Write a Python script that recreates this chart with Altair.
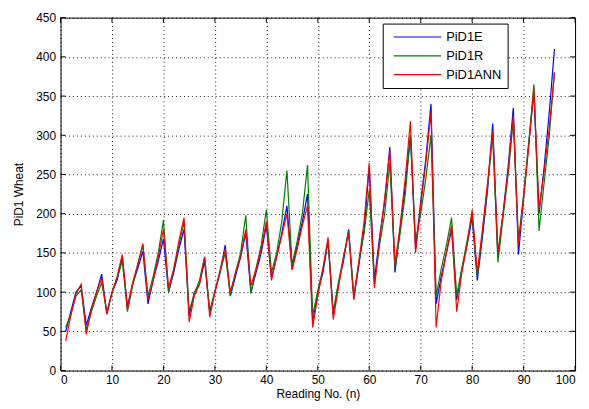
import altair as alt
import pandas as pd

# Reading numbers 1..96
reading = list(range(1, 97))

pid1e = [50, 75, 100, 108,  58, 80, 100, 123,  72, 100, 115, 145,  82, 110, 130, 152,
         85, 115, 140, 168,  100, 125, 155, 180,  70, 100, 110, 140,  75, 100, 125, 160,
         95, 120, 145, 175,  100, 125, 150, 185,  118, 145, 175, 210,  130, 160, 190, 225,
         62, 100, 125, 165,  72, 110, 140, 180,  92, 135, 180, 260,  115, 170, 215, 285,
         125, 180, 235, 300,  155, 215, 270, 340,  85, 120, 150, 180,  90, 130, 160, 195,
         115, 170, 230, 315,  145, 200, 260, 335,  148, 220, 290, 355,  200, 260, 330, 410]

pid1r = [55, 72, 95, 103,  52, 75, 95, 112,  75, 98, 118, 140,  75, 108, 135, 160,
         95, 120, 150, 192,  100, 128, 160, 190,  75, 98, 115, 145,  75, 102, 125, 150,
         95, 125, 150, 198,  98, 130, 160, 205,  125, 150, 190, 255,  135, 165, 200, 262,
         70, 102, 130, 165,  75, 112, 145, 178,  95, 140, 175, 230,  110, 160, 200, 265,
         130, 175, 225, 300,  165, 200, 245, 300,  95, 130, 160, 195,  95, 130, 165, 200,
         120, 175, 235, 300,  138, 195, 250, 320,  165, 225, 290, 365,  178, 240, 300, 380]

pid1ann = [38, 70, 98, 110,  46, 78, 100, 118,  72, 100, 120, 148,  78, 112, 135, 162,
           90, 115, 145, 180,  105, 130, 165, 195,  62, 95, 110, 145,  68, 100, 128, 155,
           100, 125, 145, 180,  108, 130, 155, 190,  115, 145, 172, 200,  128, 155, 185, 210,
           55, 95, 130, 170,  65, 105, 145, 175,  90, 140, 190, 265,  105, 165, 220, 280,
           135, 185, 245, 318,  150, 210, 265, 330,  55, 115, 150, 185,  75, 125, 160, 205,
           125, 180, 240, 305,  150, 200, 255, 325,  160, 220, 285, 360,  205, 255, 310, 380]

series_names = ["PiD1E", "PiD1R", "PiD1ANN"]
series_colors = ["#0000ff", "#008000", "#ff0000"]
x_ticks = [0, 10, 20, 30, 40, 50, 60, 70, 80, 90, 100]
y_ticks = [0, 50, 100, 150, 200, 250, 300, 350, 400, 450]

rows = []
for name, vals in zip(series_names, [pid1e, pid1r, pid1ann]):
    for x, v in zip(reading, vals):
        rows.append({"n": x, "value": v, "series": name})
df = pd.DataFrame(rows)

W, H = 519, 356
FONT = "Liberation Sans"

xscale = alt.Scale(domain=[0, 100], nice=False, zero=False)
yscale = alt.Scale(domain=[0, 450], nice=False, zero=False)

common_axis = dict(grid=True, ticks=False, domain=False, gridColor="#000",
                   gridDash=[1, 3], gridOpacity=0.9, gridWidth=1,
                   labelFont=FONT, titleFont=FONT, labelFontSize=12, titleFontSize=12,
                   labelColor="#000", titleColor="#000", titleFontWeight="normal",
                   labelOverlap=False)
x_axis = alt.Axis(values=x_ticks, labelPadding=4, titlePadding=3, **common_axis)
y_axis = alt.Axis(values=y_ticks, labelPadding=5, titlePadding=10, **common_axis)
X_TITLE = "Reading No. (n)"
Y_TITLE = "PiD1 Wheat"

lines = alt.Chart(df).mark_line(strokeWidth=1.2).encode(
    x=alt.X("n:Q", scale=xscale, title=X_TITLE, axis=x_axis),
    y=alt.Y("value:Q", scale=yscale, title=Y_TITLE, axis=y_axis),
    color=alt.Color("series:N",
                    scale=alt.Scale(domain=series_names, range=series_colors),
                    sort=series_names,
                    legend=alt.Legend(orient="none", legendX=325, legendY=6, title=None,
                                      symbolType="stroke", symbolSize=2300,
                                      symbolStrokeWidth=1.2, labelFontSize=13,
                                      labelFont=FONT, labelColor="#000",
                                      strokeColor="#000", fillColor="#fff",
                                      clipHeight=15, padding=6, rowPadding=4,
                                      labelOffset=4, symbolOffset=4)),
    detail="series:N",
)

xt = pd.DataFrame({"n": x_ticks})
yt = pd.DataFrame({"value": y_ticks})

xb = alt.Chart(xt).mark_rule(color="#000", strokeWidth=1).encode(
    x=alt.X("n:Q", scale=xscale, title=X_TITLE, axis=x_axis),
    y=alt.value(H), y2=alt.value(H - 5))
xtop = alt.Chart(xt).mark_rule(color="#000", strokeWidth=1).encode(
    x=alt.X("n:Q", scale=xscale, title=X_TITLE, axis=x_axis),
    y=alt.value(0), y2=alt.value(5))
yl = alt.Chart(yt).mark_rule(color="#000", strokeWidth=1).encode(
    y=alt.Y("value:Q", scale=yscale, title=Y_TITLE, axis=y_axis),
    x=alt.value(0), x2=alt.value(5))
yr = alt.Chart(yt).mark_rule(color="#000", strokeWidth=1).encode(
    y=alt.Y("value:Q", scale=yscale, title=Y_TITLE, axis=y_axis),
    x=alt.value(W), x2=alt.value(W - 5))

chart = alt.layer(lines, xb, xtop, yl, yr).properties(
    width=W, height=H,
    background="#fff",
    autosize=alt.AutoSizeParams(type="none"),
    padding={"left": 53, "top": 8, "right": 6, "bottom": 32},
).configure_view(
    stroke="#000", strokeWidth=1
)

chart.save("out.html", embed_options={"renderer": "svg", "actions": False})
